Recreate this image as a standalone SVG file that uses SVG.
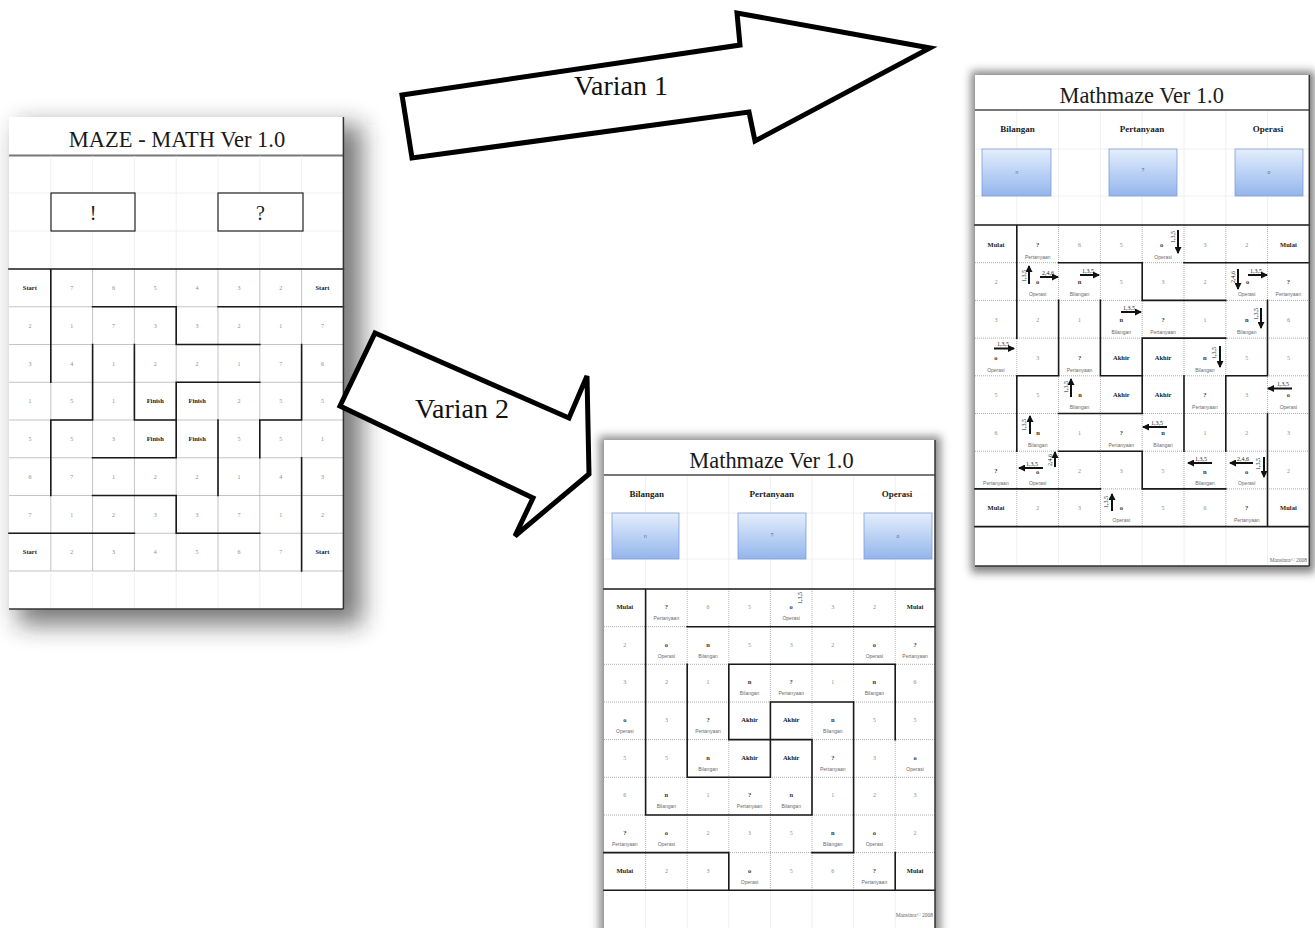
<svg xmlns="http://www.w3.org/2000/svg" width="1315" height="928" viewBox="0 0 1315 928">
<defs>
<filter id="shBig" x="-30%" y="-30%" width="160%" height="160%"><feGaussianBlur stdDeviation="12"/></filter>
<filter id="shSm" x="-20%" y="-20%" width="140%" height="140%"><feGaussianBlur stdDeviation="4"/></filter>
<linearGradient id="bg" x1="0" y1="0" x2="0" y2="1"><stop offset="0" stop-color="#e4eefc"/><stop offset="1" stop-color="#93b5ec"/></linearGradient>
<marker id="ah" markerUnits="userSpaceOnUse" markerWidth="7" markerHeight="7" viewBox="0 0 7 7" refX="6" refY="3.5" orient="auto"><path d="M0,0 L7,3.5 L0,7 z" fill="#111"/></marker>
<style>
.pg{fill:#fff}
.ttl{font-family:"Liberation Serif",serif;font-size:22.4px;fill:#1a1a1a;text-anchor:middle}
.hd{font-family:"Liberation Serif",serif;font-weight:bold;font-size:9px;fill:#222;text-anchor:middle}
.n{font-family:"Liberation Serif",serif;font-size:6px;fill:#8c8c8c;text-anchor:middle}
.s{font-family:"Liberation Serif",serif;font-weight:bold;font-size:6.5px;fill:#333;text-anchor:middle}
.nm{font-family:"Liberation Sans",sans-serif;font-size:5px;fill:#6a6a6a;text-anchor:middle}
.b{font-family:"Liberation Serif",serif;font-weight:bold;font-size:6.5px;fill:#222;text-anchor:middle}
.lb{font-family:"Liberation Serif",serif;font-size:6px;fill:#222;text-anchor:middle}
.bx{font-family:"Liberation Sans",sans-serif;font-size:5px;fill:#5a6a8a;text-anchor:middle}
.ft{font-family:"Liberation Serif",serif;font-size:5.5px;fill:#666;text-anchor:end}
.grid{stroke:#aaa;stroke-width:.7;fill:none}
.dot{stroke:#999;stroke-width:.8;stroke-dasharray:1 1;fill:none}
.wall{stroke:#1a1a1a;stroke-width:1.6;fill:none;stroke-linecap:square}
.faint{stroke:#ececec;stroke-width:.8;fill:none}
.edge{stroke:#333;stroke-width:1.5;fill:none}
.tl{stroke:#777;stroke-width:1.8;fill:none}
.box{fill:url(#bg);stroke:#7f9fd6;stroke-width:.8}
.arr{stroke:#111;stroke-width:2;fill:none;marker-end:url(#ah)}
.big{fill:#fff;stroke:#000;stroke-width:5;stroke-linejoin:miter}
.vt{font-family:"Liberation Serif",serif;font-size:28px;fill:#111;text-anchor:middle}
</style>
</defs>
<rect width="1315" height="928" fill="#fff"/>

<!-- LEFT PAGE: MAZE - MATH Ver 1.0 -->
<g id="maze-math">
<rect x="18" y="125" width="344" height="500" fill="#222" opacity="0.6" filter="url(#shBig)"/>
<rect class="pg" x="9" y="117" width="334.4" height="492"/>
<text class="ttl" x="177" y="146.5" style="font-size:22.5px">MAZE - MATH Ver 1.0</text>
<path class="tl" d="M9 155.5H343.4"/>
<path class="faint" d="M50.8 156V269M92.6 156V269M134.4 156V269M176.2 156V269M218 156V269M259.8 156V269M301.6 156V269M9 193H343M9 231H343"/>
<rect x="51" y="193" width="84" height="38" fill="#fff" stroke="#222" stroke-width="1.2"/>
<rect x="218" y="193" width="85" height="38" fill="#fff" stroke="#222" stroke-width="1.2"/>
<text class="ttl" x="93" y="220" style="font-size:20px">!</text>
<text class="ttl" x="260.5" y="220" style="font-size:20px">?</text>
<path class="grid" d="M50.8 269V571M92.6 269V571M134.4 269V571M176.2 269V571M218 269V571M259.8 269V571M301.6 269V571M9 306.75H343.4M9 344.5H343.4M9 382.25H343.4M9 420H343.4M9 457.75H343.4M9 495.5H343.4M9 533.25H343.4M9 571H343.4"/>
<path class="faint" d="M50.8 571V609M92.6 571V609M134.4 571V609M176.2 571V609M218 571V609M259.8 571V609M301.6 571V609"/>
<path class="wall" d="M9 269H343.4M92.6 306.75H176.2V344.5H259.8M218 306.75H343.4M50.8 269V382.25M50.8 420V495.5M50.8 420H92.6M92.6 344.5V420M134.4 344.5V420M134.4 420H176.2M176.2 382.25H259.8M176.2 382.25V457.75M218 420V495.5M259.8 420V457.75M259.8 420H301.6M301.6 344.5V420M301.6 457.75V571M92.6 457.75H176.2M92.6 495.5H176.2M176.2 495.5V533.25H259.8M9 533.25H134.4"/>
<path class="edge" d="M343.4 117V609M9 609H343.4"/>
<g>
<text class="b" x="29.9" y="290">Start</text><text class="n" x="71.7" y="290">7</text><text class="n" x="113.5" y="290">6</text><text class="n" x="155.3" y="290">5</text><text class="n" x="197.1" y="290">4</text><text class="n" x="238.9" y="290">3</text><text class="n" x="280.7" y="290">2</text><text class="b" x="322.5" y="290">Start</text>
<text class="n" x="29.9" y="327.75">2</text><text class="n" x="71.7" y="327.75">1</text><text class="n" x="113.5" y="327.75">7</text><text class="n" x="155.3" y="327.75">3</text><text class="n" x="197.1" y="327.75">3</text><text class="n" x="238.9" y="327.75">2</text><text class="n" x="280.7" y="327.75">1</text><text class="n" x="322.5" y="327.75">7</text>
<text class="n" x="29.9" y="365.5">3</text><text class="n" x="71.7" y="365.5">4</text><text class="n" x="113.5" y="365.5">1</text><text class="n" x="155.3" y="365.5">2</text><text class="n" x="197.1" y="365.5">2</text><text class="n" x="238.9" y="365.5">1</text><text class="n" x="280.7" y="365.5">7</text><text class="n" x="322.5" y="365.5">6</text>
<text class="n" x="29.9" y="403.25">1</text><text class="n" x="71.7" y="403.25">5</text><text class="n" x="113.5" y="403.25">1</text><text class="b" x="155.3" y="403.25">Finish</text><text class="b" x="197.1" y="403.25">Finish</text><text class="n" x="238.9" y="403.25">2</text><text class="n" x="280.7" y="403.25">5</text><text class="n" x="322.5" y="403.25">5</text>
<text class="n" x="29.9" y="441">5</text><text class="n" x="71.7" y="441">5</text><text class="n" x="113.5" y="441">3</text><text class="b" x="155.3" y="441">Finish</text><text class="b" x="197.1" y="441">Finish</text><text class="n" x="238.9" y="441">5</text><text class="n" x="280.7" y="441">5</text><text class="n" x="322.5" y="441">1</text>
<text class="n" x="29.9" y="478.75">6</text><text class="n" x="71.7" y="478.75">7</text><text class="n" x="113.5" y="478.75">1</text><text class="n" x="155.3" y="478.75">2</text><text class="n" x="197.1" y="478.75">2</text><text class="n" x="238.9" y="478.75">1</text><text class="n" x="280.7" y="478.75">4</text><text class="n" x="322.5" y="478.75">3</text>
<text class="n" x="29.9" y="516.5">7</text><text class="n" x="71.7" y="516.5">1</text><text class="n" x="113.5" y="516.5">2</text><text class="n" x="155.3" y="516.5">3</text><text class="n" x="197.1" y="516.5">3</text><text class="n" x="238.9" y="516.5">7</text><text class="n" x="280.7" y="516.5">1</text><text class="n" x="322.5" y="516.5">2</text>
<text class="b" x="29.9" y="554.25">Start</text><text class="n" x="71.7" y="554.25">2</text><text class="n" x="113.5" y="554.25">3</text><text class="n" x="155.3" y="554.25">4</text><text class="n" x="197.1" y="554.25">5</text><text class="n" x="238.9" y="554.25">6</text><text class="n" x="280.7" y="554.25">7</text><text class="b" x="322.5" y="554.25">Start</text>
</g>
</g>

<!-- BOTTOM PAGE: Mathmaze (Varian 2) -->
<g id="mathmaze-varian2">
<rect x="599" y="436" width="342" height="500" fill="#222" opacity="0.5" filter="url(#shSm)"/>
<rect class="pg" x="604" y="440" width="331" height="490"/>
<text class="ttl" x="771.5" y="468">Mathmaze Ver 1.0</text>
<path class="tl" d="M604 475H935"/>
<path class="faint" d="M645.6 476V589M687.2 476V589M728.8 476V589M770.4 476V589M812 476V589M853.6 476V589M895.2 476V589M604 513H935M604 559H935M645.6 891V928M687.2 891V928M728.8 891V928M770.4 891V928M812 891V928M853.6 891V928M895.2 891V928"/>
<text class="hd" x="646.7" y="497">Bilangan</text>
<text class="hd" x="771.7" y="497">Pertanyaan</text>
<text class="hd" x="897" y="497">Operasi</text>
<rect class="box" x="612" y="513" width="67" height="46"/>
<rect class="box" x="738" y="513" width="68" height="46"/>
<rect class="box" x="864" y="513" width="68" height="46"/>
<text class="bx" x="645.5" y="538">n</text><text class="bx" x="772" y="537">?</text><text class="bx" x="898" y="538">o</text>
<path class="dot" d="M645.6 589V890.3M687.2 589V890.3M728.8 589V890.3M770.4 589V890.3M812 589V890.3M853.6 589V890.3M895.2 589V890.3M604 626.7H935M604 664.3H935M604 702H935M604 739.6H935M604 777.3H935M604 815H935M604 852.6H935"/>
<path class="wall" d="M604 589H935M645.6 589V815M687.2 626.7H935M687.2 664.3V777.3M728.8 664.3V739.6M728.8 664.3H895.2V739.6M770.4 702H853.6V852.6M770.4 702V777.3M728.8 739.6H812V815M687.2 777.3H770.4M645.6 815H812M604 852.6H728.8V890.3M812 852.6H853.6M895.2 852.6V890.3M604 890.3H935"/>
<path class="edge" d="M935 440V928"/>
<g>
<text class="b" x="624.8" y="609">Mulai</text><text class="s" x="666.4" y="609">?</text><text class="nm" x="666.4" y="620">Pertanyaan</text><text class="n" x="708" y="609">6</text><text class="n" x="749.6" y="609">5</text><text class="s" x="791.2" y="609">o</text><text class="nm" x="791.2" y="620">Operasi</text><text class="lb" transform="translate(802,598) rotate(-90)">1,3,5</text><text class="n" x="832.8" y="609">3</text><text class="n" x="874.4" y="609">2</text><text class="b" x="915.1" y="609">Mulai</text>
<text class="n" x="624.8" y="646.7">2</text><text class="s" x="666.4" y="646.7">o</text><text class="nm" x="666.4" y="657.7">Operasi</text><text class="s" x="708" y="646.7">n</text><text class="nm" x="708" y="657.7">Bilangan</text><text class="n" x="749.6" y="646.7">5</text><text class="n" x="791.2" y="646.7">3</text><text class="n" x="832.8" y="646.7">2</text><text class="s" x="874.4" y="646.7">o</text><text class="nm" x="874.4" y="657.7">Operasi</text><text class="s" x="915.1" y="646.7">?</text><text class="nm" x="915.1" y="657.7">Pertanyaan</text>
<text class="n" x="624.8" y="684.3">3</text><text class="n" x="666.4" y="684.3">2</text><text class="n" x="708" y="684.3">1</text><text class="s" x="749.6" y="684.3">n</text><text class="nm" x="749.6" y="695.3">Bilangan</text><text class="s" x="791.2" y="684.3">?</text><text class="nm" x="791.2" y="695.3">Pertanyaan</text><text class="n" x="832.8" y="684.3">1</text><text class="s" x="874.4" y="684.3">n</text><text class="nm" x="874.4" y="695.3">Bilangan</text><text class="n" x="915.1" y="684.3">6</text>
<text class="s" x="624.8" y="722">o</text><text class="nm" x="624.8" y="733">Operasi</text><text class="n" x="666.4" y="722">3</text><text class="s" x="708" y="722">?</text><text class="nm" x="708" y="733">Pertanyaan</text><text class="b" x="749.6" y="722">Akhir</text><text class="b" x="791.2" y="722">Akhir</text><text class="s" x="832.8" y="722">n</text><text class="nm" x="832.8" y="733">Bilangan</text><text class="n" x="874.4" y="722">5</text><text class="n" x="915.1" y="722">5</text>
<text class="n" x="624.8" y="759.6">5</text><text class="n" x="666.4" y="759.6">5</text><text class="s" x="708" y="759.6">n</text><text class="nm" x="708" y="770.6">Bilangan</text><text class="b" x="749.6" y="759.6">Akhir</text><text class="b" x="791.2" y="759.6">Akhir</text><text class="s" x="832.8" y="759.6">?</text><text class="nm" x="832.8" y="770.6">Pertanyaan</text><text class="n" x="874.4" y="759.6">3</text><text class="s" x="915.1" y="759.6">o</text><text class="nm" x="915.1" y="770.6">Operasi</text>
<text class="n" x="624.8" y="797.3">6</text><text class="s" x="666.4" y="797.3">n</text><text class="nm" x="666.4" y="808.3">Bilangan</text><text class="n" x="708" y="797.3">1</text><text class="s" x="749.6" y="797.3">?</text><text class="nm" x="749.6" y="808.3">Pertanyaan</text><text class="s" x="791.2" y="797.3">n</text><text class="nm" x="791.2" y="808.3">Bilangan</text><text class="n" x="832.8" y="797.3">1</text><text class="n" x="874.4" y="797.3">2</text><text class="n" x="915.1" y="797.3">3</text>
<text class="s" x="624.8" y="835">?</text><text class="nm" x="624.8" y="846">Pertanyaan</text><text class="s" x="666.4" y="835">o</text><text class="nm" x="666.4" y="846">Operasi</text><text class="n" x="708" y="835">2</text><text class="n" x="749.6" y="835">3</text><text class="n" x="791.2" y="835">5</text><text class="s" x="832.8" y="835">n</text><text class="nm" x="832.8" y="846">Bilangan</text><text class="s" x="874.4" y="835">o</text><text class="nm" x="874.4" y="846">Operasi</text><text class="n" x="915.1" y="835">2</text>
<text class="b" x="624.8" y="872.6">Mulai</text><text class="n" x="666.4" y="872.6">2</text><text class="n" x="708" y="872.6">3</text><text class="s" x="749.6" y="872.6">o</text><text class="nm" x="749.6" y="883.6">Operasi</text><text class="n" x="791.2" y="872.6">5</text><text class="n" x="832.8" y="872.6">6</text><text class="s" x="874.4" y="872.6">?</text><text class="nm" x="874.4" y="883.6">Pertanyaan</text><text class="b" x="915.1" y="872.6">Mulai</text>
</g>
<text class="ft" x="933" y="917">Mansinra© 2008</text>
</g>

<!-- RIGHT PAGE: Mathmaze (Varian 1) -->
<g id="mathmaze-varian1">
<rect x="971" y="71" width="344" height="502" fill="#222" opacity="0.55" filter="url(#shSm)"/>
<rect class="pg" x="975" y="75" width="334.3" height="491"/>
<text class="ttl" x="1141.7" y="103">Mathmaze Ver 1.0</text>
<path class="tl" d="M975 110H1309.3"/>
<path class="faint" d="M1016.8 111V225M1058.6 111V225M1100.4 111V225M1142.2 111V225M1184 111V225M1225.8 111V225M1267.5 111V225M975 149H1309M975 196H1309M1016.8 527V565M1058.6 527V565M1100.4 527V565M1142.2 527V565M1184 527V565M1225.8 527V565M1267.5 527V565"/>
<text class="hd" x="1017.5" y="132.3">Bilangan</text>
<text class="hd" x="1142" y="132.3">Pertanyaan</text>
<text class="hd" x="1268" y="132.3">Operasi</text>
<rect class="box" x="982" y="149" width="69" height="47"/>
<rect class="box" x="1109" y="149" width="68" height="47"/>
<rect class="box" x="1235" y="149" width="68" height="47"/>
<text class="bx" x="1017" y="174">n</text><text class="bx" x="1143" y="172">?</text><text class="bx" x="1269" y="174">o</text>
<path class="dot" d="M1016.8 225V526.6M1058.6 225V526.6M1100.4 225V526.6M1142.2 225V526.6M1184 225V526.6M1225.8 225V526.6M1267.5 225V526.6M975 262.7H1309.3M975 300.4H1309.3M975 338.1H1309.3M975 375.8H1309.3M975 413.5H1309.3M975 451.2H1309.3M975 488.9H1309.3"/>
<path class="wall" d="M975 225H1309.3M1016.8 225V338.1M1058.6 262.7H1142.2V300.4H1225.8M1184 262.7H1309.3M1058.6 300.4V375.8M1100.4 300.4V375.8M1267.5 300.4V375.8M1142.2 338.1H1225.8M1142.2 338.1V413.5M1016.8 375.8H1058.6M1100.4 375.8H1142.2M1225.8 375.8H1267.5M1016.8 375.8V451.2M1184 375.8V451.2M1225.8 375.8V451.2M1058.6 413.5H1142.2M1267.5 413.5V526.6M1058.6 451.2H1142.2M1142.2 451.2V488.9M975 488.9H1100.4M1142.2 488.9H1225.8M975 526.6H1309.3"/>
<path class="edge" d="M1309.3 75V566M975 566H1309.3"/>
<g>
<text class="b" x="995.9" y="246.5">Mulai</text><text class="s" x="1037.7" y="246.5">?</text><text class="nm" x="1037.7" y="258.5">Pertanyaan</text><text class="n" x="1079.5" y="246.5">6</text><text class="n" x="1121.3" y="246.5">5</text><text class="s" x="1161.5" y="246.5">o</text><text class="nm" x="1163.1" y="258.5">Operasi</text><text class="n" x="1204.9" y="246.5">3</text><text class="n" x="1246.7" y="246.5">2</text><text class="b" x="1288.4" y="246.5">Mulai</text>
<text class="n" x="995.9" y="284.2">2</text><text class="s" x="1037.7" y="284.2">o</text><text class="nm" x="1037.7" y="296.2">Operasi</text><text class="s" x="1079.5" y="284.2">n</text><text class="nm" x="1079.5" y="296.2">Bilangan</text><text class="n" x="1121.3" y="284.2">5</text><text class="n" x="1163.1" y="284.2">3</text><text class="n" x="1204.9" y="284.2">2</text><text class="s" x="1247.5" y="284.2">o</text><text class="nm" x="1246.7" y="296.2">Operasi</text><text class="s" x="1288.4" y="284.2">?</text><text class="nm" x="1288.4" y="296.2">Pertanyaan</text>
<text class="n" x="995.9" y="321.9">3</text><text class="n" x="1037.7" y="321.9">2</text><text class="n" x="1079.5" y="321.9">1</text><text class="s" x="1121.3" y="321.9">n</text><text class="nm" x="1121.3" y="333.9">Bilangan</text><text class="s" x="1163.1" y="321.9">?</text><text class="nm" x="1163.1" y="333.9">Pertanyaan</text><text class="n" x="1204.9" y="321.9">1</text><text class="s" x="1246.7" y="321.9">n</text><text class="nm" x="1246.7" y="333.9">Bilangan</text><text class="n" x="1288.4" y="321.9">6</text>
<text class="s" x="995.9" y="359.6">o</text><text class="nm" x="995.9" y="371.6">Operasi</text><text class="n" x="1037.7" y="359.6">3</text><text class="s" x="1079.5" y="359.6">?</text><text class="nm" x="1079.5" y="371.6">Pertanyaan</text><text class="b" x="1121.3" y="359.6">Akhir</text><text class="b" x="1163.1" y="359.6">Akhir</text><text class="s" x="1204.9" y="359.6">n</text><text class="nm" x="1204.9" y="371.6">Bilangan</text><text class="n" x="1246.7" y="359.6">5</text><text class="n" x="1288.4" y="359.6">5</text>
<text class="n" x="995.9" y="397.3">5</text><text class="n" x="1037.7" y="397.3">5</text><text class="s" x="1080" y="397.3">n</text><text class="nm" x="1079.5" y="409.3">Bilangan</text><text class="b" x="1121.3" y="397.3">Akhir</text><text class="b" x="1163.1" y="397.3">Akhir</text><text class="s" x="1204.9" y="397.3">?</text><text class="nm" x="1204.9" y="409.3">Pertanyaan</text><text class="n" x="1246.7" y="397.3">3</text><text class="s" x="1288.4" y="397.3">o</text><text class="nm" x="1288.4" y="409.3">Operasi</text>
<text class="n" x="995.9" y="435">6</text><text class="s" x="1038" y="435">n</text><text class="nm" x="1037.7" y="447">Bilangan</text><text class="n" x="1079.5" y="435">1</text><text class="s" x="1121.3" y="435">?</text><text class="nm" x="1121.3" y="447">Pertanyaan</text><text class="s" x="1163.1" y="435">n</text><text class="nm" x="1163.1" y="447">Bilangan</text><text class="n" x="1204.9" y="435">1</text><text class="n" x="1246.7" y="435">2</text><text class="n" x="1288.4" y="435">3</text>
<text class="s" x="995.9" y="472.7">?</text><text class="nm" x="995.9" y="484.7">Pertanyaan</text><text class="s" x="1037.7" y="474">o</text><text class="nm" x="1037.7" y="484.7">Operasi</text><text class="n" x="1079.5" y="472.7">2</text><text class="n" x="1121.3" y="472.7">3</text><text class="n" x="1163.1" y="472.7">5</text><text class="s" x="1204.9" y="474">n</text><text class="nm" x="1204.9" y="484.7">Bilangan</text><text class="s" x="1246.7" y="474">o</text><text class="nm" x="1246.7" y="484.7">Operasi</text><text class="n" x="1288.4" y="472.7">2</text>
<text class="b" x="995.9" y="510.4">Mulai</text><text class="n" x="1037.7" y="510.4">2</text><text class="n" x="1079.5" y="510.4">3</text><text class="s" x="1121.3" y="510.4">o</text><text class="nm" x="1121.3" y="522.4">Operasi</text><text class="n" x="1163.1" y="510.4">5</text><text class="n" x="1204.9" y="510.4">6</text><text class="s" x="1246.7" y="510.4">?</text><text class="nm" x="1246.7" y="522.4">Pertanyaan</text><text class="b" x="1288.4" y="510.4">Mulai</text>
</g>
<g id="move-arrows">
<path class="arr" d="M1178 230V253"/><text class="lb" transform="translate(1175,237) rotate(-90)">1,3,5</text>
<path class="arr" d="M1029 284V266"/><text class="lb" transform="translate(1026,276) rotate(-90)">1,3,5</text>
<path class="arr" d="M1040 277H1058"/><text class="lb" x="1048" y="274.5">2,4,6</text>
<path class="arr" d="M1080 275H1099"/><text class="lb" x="1088" y="272.5">1,3,5</text>
<path class="arr" d="M1238 269V289"/><text class="lb" transform="translate(1235,277) rotate(-90)">2,4,6</text>
<path class="arr" d="M1248 275H1267"/><text class="lb" x="1256" y="272.5">1,3,5</text>
<path class="arr" d="M1121 312H1141"/><text class="lb" x="1129" y="309.5">1,3,5</text>
<path class="arr" d="M1261 308V328"/><text class="lb" transform="translate(1258,314) rotate(-90)">1,3,5</text>
<path class="arr" d="M994 348.5H1014"/><text class="lb" x="1003" y="346">1,3,5</text>
<path class="arr" d="M1220 346V367"/><text class="lb" transform="translate(1216,353) rotate(-90)">1,3,5</text>
<path class="arr" d="M1071 397V379"/><text class="lb" transform="translate(1068,387) rotate(-90)">1,3,5</text>
<path class="arr" d="M1292 388.5H1268"/><text class="lb" x="1283" y="386">1,3,5</text>
<path class="arr" d="M1030 434V416"/><text class="lb" transform="translate(1026,425) rotate(-90)">1,3,5</text>
<path class="arr" d="M1167 427H1143"/><text class="lb" x="1157" y="424.5">1,3,5</text>
<path class="arr" d="M1043 468H1019"/><text class="lb" x="1032" y="465.5">1,3,5</text>
<path class="arr" d="M1055 467V452"/><text class="lb" transform="translate(1052,460) rotate(-90)">2,4,6</text>
<path class="arr" d="M1212 463H1188"/><text class="lb" x="1201" y="460.5">1,3,5</text>
<path class="arr" d="M1253 463H1230"/><text class="lb" x="1243" y="460.5">2,4,6</text>
<path class="arr" d="M1264 457V477"/><text class="lb" transform="translate(1260,464) rotate(-90)">1,3,5</text>
<path class="arr" d="M1112 511V494"/><text class="lb" transform="translate(1108,502) rotate(-90)">1,3,5</text>
</g>
<text class="ft" x="1307" y="562">Mansinra© 2008</text>
</g>

<!-- CONNECTORS: block arrows -->
<g id="connectors">
<g id="arrow-varian1">
<polygon class="big" points="402,95 740,45 737,13 930,48 755,141 749,112 412,158"/>
<text class="vt" x="621" y="95">Varian 1</text>
</g>
<g id="arrow-varian2">
<polygon class="big" points="375,333 569,418 587,376 589,474 515,536 533,498 340,406"/>
<text class="vt" x="462" y="418">Varian 2</text>
</g>
</g>
</svg>
